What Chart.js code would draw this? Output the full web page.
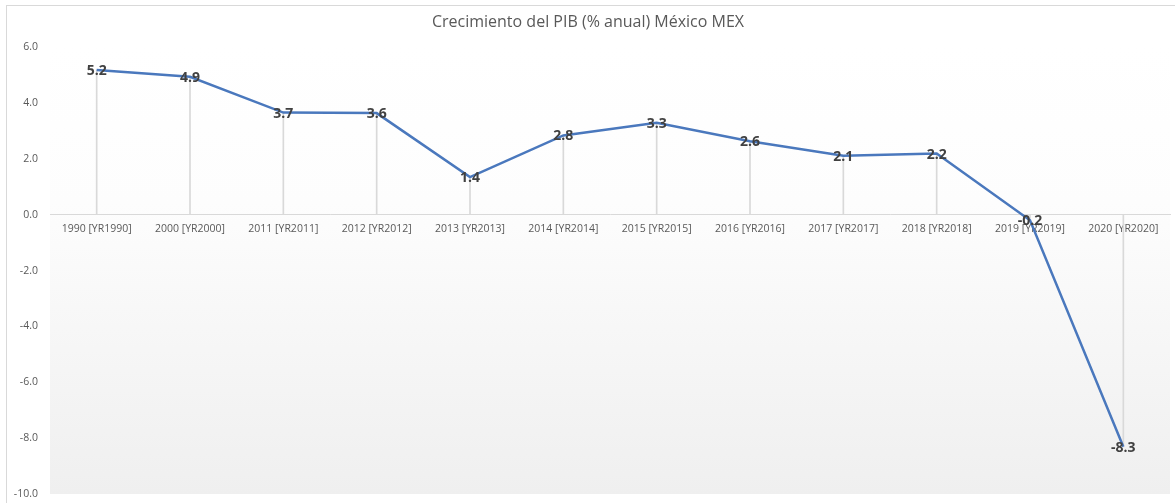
<!DOCTYPE html>
<html>
<head>
<meta charset="utf-8">
<script src="https://cdn.jsdelivr.net/npm/chart.js@4/dist/chart.umd.min.js"></script>
<style>
  html, body { margin: 0; padding: 0; background: #fff; }
  #wrap { position: relative; width: 1175px; height: 503px; }
  #frame { position: absolute; left: 6px; top: 5px; right: -2px; bottom: -2px;
           border-top: 1px solid #d9d9d9; border-left: 1px solid #d9d9d9; pointer-events: none; }
</style>
</head>
<body>
<div id="wrap">
  <canvas id="pibChart" width="1175" height="503"></canvas>
  <div id="frame"></div>
</div>
<script>
// Crecimiento del PIB (% anual) - Mexico
const years = ['1990 [YR1990]', '2000 [YR2000]', '2011 [YR2011]', '2012 [YR2012]', '2013 [YR2013]',
    '2014 [YR2014]', '2015 [YR2015]', '2016 [YR2016]', '2017 [YR2017]', '2018 [YR2018]',
    '2019 [YR2019]', '2020 [YR2020]'];
const growth = [5.18, 4.94, 3.66, 3.64, 1.35, 2.84, 3.29, 2.63, 2.11, 2.19, -0.2, -8.31];
const yTicks = [6, 4, 2, 0, -2, -4, -6, -8, -10];

const textGrey = '#595959';

// gradient behind the plot area
const plotBackground = {
    id: 'plotBackground',
    beforeDraw(chart) {
        const { ctx, chartArea } = chart;
        const g = ctx.createLinearGradient(0, chartArea.top, 0, chartArea.bottom);
        g.addColorStop(0, '#ffffff');
        g.addColorStop(0.35, '#fdfdfd');
        g.addColorStop(1, '#efefef');
        ctx.save();
        ctx.fillStyle = g;
        ctx.fillRect(chartArea.left, chartArea.top, chartArea.right - chartArea.left, chartArea.bottom - chartArea.top);
        ctx.restore();
    }
};

// value labels centred on each point
const pointLabels = {
    id: 'pointLabels',
    afterDatasetsDraw(chart) {
        const { ctx } = chart;
        const meta = chart.getDatasetMeta(1);
        ctx.save();
        ctx.font = 'bold 14px "Open Sans"';
        ctx.fillStyle = '#404040';
        ctx.textAlign = 'center';
        ctx.textBaseline = 'middle';
        meta.data.forEach((pt, i) => {
            ctx.fillText(growth[i].toFixed(1), pt.x, pt.y + 1);
        });
        ctx.restore();
    }
};

new Chart(document.getElementById('pibChart'), {
    data: {
        labels: years,
        datasets: [
            {
                // drop lines from each point to the axis
                type: 'bar',
                data: growth,
                backgroundColor: '#d9d9d9',
                barThickness: 1,
                order: 2
            },
            {
                type: 'line',
                data: growth,
                borderColor: '#4a78bd',
                borderWidth: 2.5,
                pointRadius: 0,
                tension: 0,
                order: 1
            }
        ]
    },
    options: {
        responsive: false,
        animation: false,
        layout: { padding: { left: 6, right: 5, top: 0, bottom: 9 } },
        plugins: {
            legend: { display: false },
            tooltip: { enabled: false },
            title: {
                display: true,
                text: 'Crecimiento del PIB (% anual) México MEX',
                color: textGrey,
                font: { family: 'Open Sans', size: 16, weight: 'normal' },
                padding: { top: 13, bottom: 15 }
            }
        },
        scales: {
            x: {
                position: { y: 0 },
                offset: true,
                grid: { display: false, drawTicks: false },
                border: { display: true, color: '#d9d9d9', width: 1 },
                ticks: {
                    color: textGrey,
                    font: { family: 'Open Sans', size: 10.5 },
                    padding: 8,
                    maxRotation: 0,
                    autoSkip: false
                },
                afterFit(scale) {
                    scale.height = 0;
                    scale.paddingTop = 0;
                    scale.paddingBottom = 0;
                }
            },
            y: {
                min: -10,
                max: 6,
                grid: { display: false, drawTicks: false },
                border: { display: false },
                afterBuildTicks(scale) {
                    scale.ticks = yTicks.map(v => ({ value: v }));
                },
                afterFit(scale) {
                    scale.width = 44;
                    scale.paddingTop = 0;
                    scale.paddingBottom = 0;
                },
                ticks: {
                    color: textGrey,
                    font: { family: 'Open Sans', size: 10.5 },
                    padding: 12,
                    callback: v => v.toFixed(1)
                }
            }
        }
    },
    plugins: [plotBackground, pointLabels]
});
</script>
</body>
</html>
